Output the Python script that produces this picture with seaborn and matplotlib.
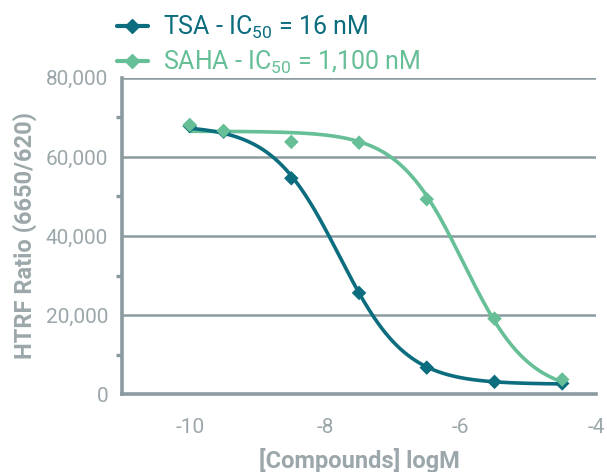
import numpy as np
import pandas as pd
import matplotlib
matplotlib.use("Agg")
import matplotlib.pyplot as plt
from matplotlib.lines import Line2D
from matplotlib.ticker import MultipleLocator, FuncFormatter
import seaborn as sns

sns.set_style("white")
plt.rcParams['font.family'] = ['Roboto', 'DejaVu Sans']
plt.rcParams['mathtext.default'] = 'regular'
plt.rcParams['axes.unicode_minus'] = False

# measured points (log M vs HTRF ratio)
log_conc = [-10, -9.5, -8.5, -7.5, -6.5, -5.5, -4.5]
tsa_ratio = [67800, 66400, 54600, 25600, 6700, 3100, 2700]
saha_ratio = [68100, 66600, 63800, 63600, 49300, 19100, 3700]

# 4PL fit parameters: top, bottom, logIC50, hill
tsa_fit = [68000, 2500, -7.8, 0.88]
saha_fit = [66500, 0, -5.96, 0.9]

tsa_color = "#0b6d7e"
saha_color = "#66bf96"
axis_gray = "#8b9b9f"
text_gray = "#9ba7aa"


def four_pl(x, p):
    top, bottom, logic50, hill = p
    return bottom + (top - bottom) / (1 + 10 ** ((x - logic50) * hill))


xs = np.linspace(-10, -4.5, 300)
curves = pd.concat([
    pd.DataFrame({"x": xs, "y": four_pl(xs, tsa_fit), "cmp": "TSA"}),
    pd.DataFrame({"x": xs, "y": four_pl(xs, saha_fit), "cmp": "SAHA"}),
])
points = pd.concat([
    pd.DataFrame({"x": log_conc, "y": tsa_ratio, "cmp": "TSA"}),
    pd.DataFrame({"x": log_conc, "y": saha_ratio, "cmp": "SAHA"}),
])
palette = {"TSA": tsa_color, "SAHA": saha_color}

fig = plt.figure(figsize=(6.07, 4.72), dpi=100)
ax = fig.add_axes([0.201, 0.165, 0.781, 0.67])

ax.grid(False)
for yv in [20000, 40000, 60000, 80000]:
    ax.axhline(yv, color=axis_gray, lw=1.8, zorder=0)

sns.lineplot(data=curves, x="x", y="y", hue="cmp", hue_order=["SAHA", "TSA"],
             palette=palette, lw=2.6, legend=False, ax=ax)
sns.scatterplot(data=points, x="x", y="y", hue="cmp", hue_order=["SAHA", "TSA"],
                palette=palette, marker="D", s=55, edgecolor="none",
                legend=False, ax=ax, zorder=5)

ax.set_xlim(-11, -4)
ax.set_ylim(0, 80000)
ax.set_xticks([-10, -8, -6, -4])
ax.yaxis.set_major_locator(MultipleLocator(20000))
ax.yaxis.set_minor_locator(MultipleLocator(10000))
ax.yaxis.set_major_formatter(FuncFormatter(lambda v, p: f"{int(v):,}"))

for s in ["top", "right"]:
    ax.spines[s].set_visible(False)
for s in ["left", "bottom"]:
    ax.spines[s].set_color(axis_gray)
    ax.spines[s].set_linewidth(2.6)

ax.tick_params(axis="both", which="major", direction="out", length=7, width=2.4,
               color=axis_gray, labelcolor=text_gray, labelsize=15, pad=3)
ax.tick_params(axis="y", which="minor", direction="out", length=4, width=2.4,
               color=axis_gray, left=True)
ax.tick_params(axis="x", pad=10)

ax.set_xlabel("[Compounds] logM", fontsize=17, fontweight="bold", color=text_gray, labelpad=8)
ax.set_ylabel("HTRF Ratio (6650/620)", fontsize=17, fontweight="bold", color=text_gray, labelpad=6)

handles = [
    Line2D([], [], color=tsa_color, lw=3, marker="D", markersize=7),
    Line2D([], [], color=saha_color, lw=3, marker="D", markersize=7),
]
labels = ["TSA - IC$_{50}$ = 16 nM", "SAHA - IC$_{50}$ = 1,100 nM"]
leg = fig.legend(handles, labels, loc="upper left", bbox_to_anchor=(0.155, 1.018),
                 frameon=False, fontsize=18, handlelength=1.25, handletextpad=0.6,
                 labelspacing=0.3)
for t, c in zip(leg.get_texts(), [tsa_color, saha_color]):
    t.set_color(c)

fig.savefig("out.png", dpi=100)
